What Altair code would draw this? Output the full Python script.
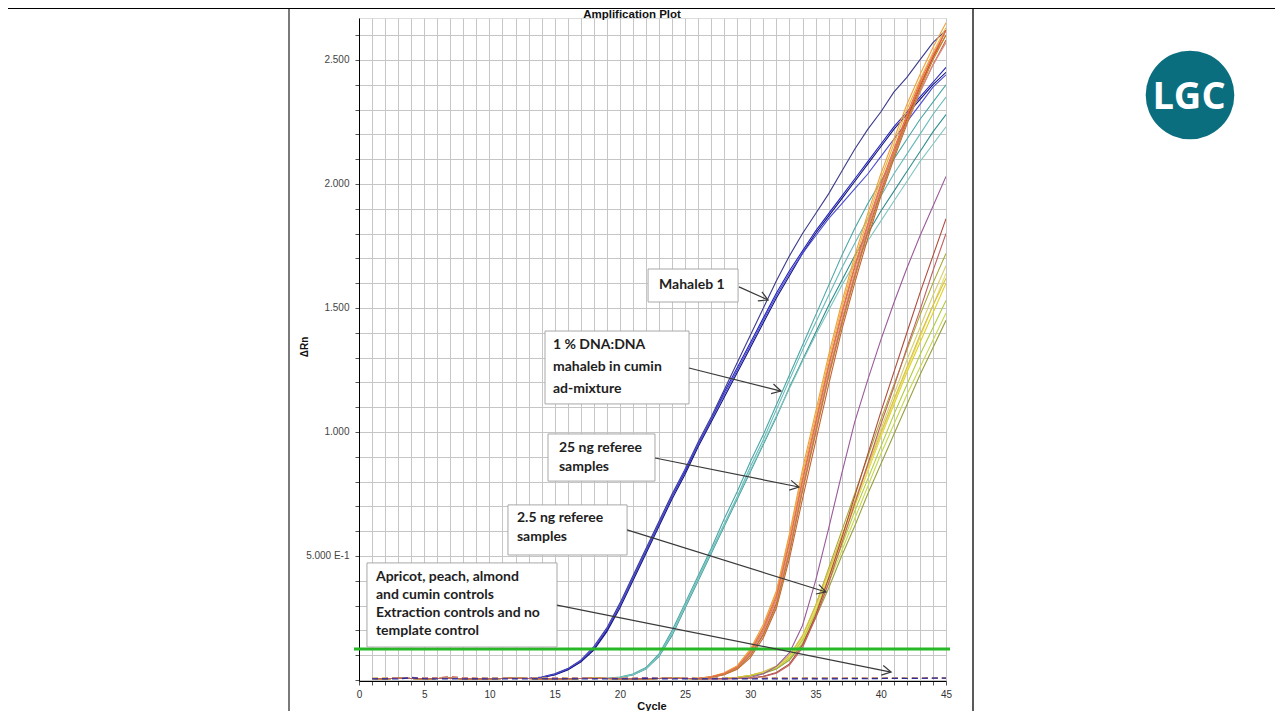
import math
import altair as alt
import pandas as pd

# ---------------- data ----------------
CYCLES = list(range(1, 46))

BASELINE = [0.006, 0.005, 0.007, 0.006, 0.005, 0.006, 0.007, 0.005, 0.006, 0.005,
            0.006, 0.007, 0.006, 0.005, 0.006, 0.005, 0.006, 0.007, 0.006, 0.005,
            0.006, 0.005, 0.006, 0.007, 0.006, 0.005, 0.006, 0.005, 0.006, 0.007,
            0.006, 0.005, 0.006, 0.005, 0.006, 0.007, 0.006, 0.005, 0.006, 0.005,
            0.006, 0.007, 0.006, 0.005, 0.006]

# rising part of each curve, up to cycle 45 (earlier cycles follow BASELINE)
MAHALEB_A = [0.012, 0.025, 0.046, 0.08, 0.135, 0.21, 0.31, 0.42, 0.53, 0.64, 0.75, 0.85, 0.96, 1.06,
             1.17, 1.28, 1.39, 1.50, 1.61, 1.71, 1.80, 1.88, 1.96, 2.05, 2.14, 2.22, 2.29, 2.37,
             2.43, 2.50, 2.57, 2.62]
MAHALEB_B = [0.010, 0.022, 0.042, 0.075, 0.125, 0.20, 0.30, 0.41, 0.52, 0.63, 0.74, 0.84, 0.95, 1.05,
             1.16, 1.26, 1.36, 1.46, 1.56, 1.65, 1.73, 1.81, 1.88, 1.95, 2.02, 2.09, 2.16, 2.23,
             2.29, 2.35, 2.41, 2.47]
MAHALEB_C = [0.010, 0.020, 0.040, 0.072, 0.12, 0.195, 0.29, 0.40, 0.51, 0.62, 0.73, 0.83, 0.94, 1.04,
             1.14, 1.24, 1.34, 1.44, 1.54, 1.63, 1.72, 1.80, 1.87, 1.94, 2.01, 2.08, 2.15, 2.22,
             2.28, 2.34, 2.40, 2.45]
MAHALEB_D = [0.011, 0.023, 0.044, 0.078, 0.13, 0.205, 0.30, 0.41, 0.52, 0.63, 0.74, 0.85, 0.95, 1.05,
             1.15, 1.25, 1.35, 1.45, 1.55, 1.64, 1.72, 1.79, 1.86, 1.92, 1.98, 2.04, 2.11, 2.18,
             2.25, 2.32, 2.39, 2.44]

MIX_A = [0.007, 0.012, 0.024, 0.05, 0.105, 0.20, 0.31, 0.42, 0.53, 0.65, 0.76, 0.88, 0.99, 1.11,
         1.23, 1.35, 1.47, 1.59, 1.71, 1.82, 1.92, 2.01, 2.10, 2.18, 2.26, 2.33, 2.40]
MIX_B = [0.006, 0.011, 0.022, 0.047, 0.10, 0.19, 0.30, 0.41, 0.52, 0.63, 0.74, 0.86, 0.97, 1.09,
         1.21, 1.33, 1.44, 1.55, 1.66, 1.76, 1.86, 1.95, 2.04, 2.12, 2.20, 2.28, 2.35]
MIX_C = [0.006, 0.010, 0.020, 0.044, 0.095, 0.18, 0.29, 0.40, 0.51, 0.62, 0.73, 0.84, 0.95, 1.06,
         1.18, 1.29, 1.40, 1.51, 1.61, 1.71, 1.80, 1.89, 1.97, 2.05, 2.13, 2.21, 2.28]
MIX_D = [0.006, 0.011, 0.021, 0.045, 0.098, 0.185, 0.295, 0.405, 0.515, 0.625, 0.735, 0.845, 0.955,
         1.065, 1.175, 1.285, 1.39, 1.49, 1.59, 1.68, 1.77, 1.85, 1.93, 2.01, 2.09, 2.16, 2.23]

REF25_A = [0.006, 0.012, 0.025, 0.05, 0.11, 0.20, 0.33, 0.55, 0.80, 1.03, 1.26, 1.47, 1.66, 1.83, 1.99, 2.13, 2.27, 2.40, 2.51, 2.60]
REF25_B = [0.006, 0.011, 0.023, 0.046, 0.10, 0.185, 0.31, 0.52, 0.77, 1.00, 1.23, 1.44, 1.63, 1.81, 1.97, 2.12, 2.26, 2.39, 2.51, 2.62]
REF25_C = [0.007, 0.013, 0.027, 0.055, 0.12, 0.215, 0.35, 0.58, 0.83, 1.06, 1.29, 1.50, 1.69, 1.86, 2.02, 2.16, 2.30, 2.42, 2.53, 2.63]
REF25_D = [0.006, 0.010, 0.021, 0.043, 0.09, 0.17, 0.29, 0.49, 0.73, 0.96, 1.19, 1.41, 1.60, 1.78, 1.95, 2.10, 2.24, 2.37, 2.48, 2.58]
REF25_E = [0.007, 0.014, 0.029, 0.058, 0.125, 0.225, 0.36, 0.59, 0.85, 1.08, 1.31, 1.52, 1.71, 1.88, 2.04, 2.18, 2.32, 2.44, 2.55, 2.65]
REF25_F = [0.006, 0.012, 0.024, 0.048, 0.105, 0.195, 0.32, 0.53, 0.78, 1.01, 1.24, 1.45, 1.64, 1.82, 1.98, 2.12, 2.25, 2.37, 2.48, 2.57]
REF25_G = [0.006, 0.011, 0.022, 0.045, 0.098, 0.18, 0.30, 0.51, 0.76, 0.99, 1.22, 1.43, 1.62, 1.80, 1.96, 2.11, 2.25, 2.38, 2.50, 2.60]
REF25_H = [0.007, 0.013, 0.026, 0.052, 0.115, 0.21, 0.34, 0.56, 0.81, 1.04, 1.27, 1.48, 1.67, 1.84, 2.00, 2.14, 2.28, 2.41, 2.52, 2.62]

REF2_A = [0.006, 0.010, 0.018, 0.030, 0.050, 0.090, 0.165, 0.28, 0.42, 0.56, 0.70, 0.84, 0.98, 1.11, 1.24, 1.36, 1.48, 1.60]
REF2_B = [0.006, 0.011, 0.019, 0.032, 0.054, 0.095, 0.175, 0.30, 0.45, 0.60, 0.75, 0.90, 1.05, 1.19, 1.33, 1.47, 1.60, 1.72]
REF2_C = [0.006, 0.010, 0.018, 0.030, 0.051, 0.092, 0.17, 0.29, 0.43, 0.58, 0.72, 0.87, 1.01, 1.15, 1.29, 1.42, 1.55, 1.67]
REF2_D = [0.006, 0.010, 0.017, 0.029, 0.049, 0.088, 0.16, 0.27, 0.41, 0.54, 0.68, 0.81, 0.94, 1.07, 1.19, 1.31, 1.42, 1.53]
REF2_E = [0.006, 0.009, 0.016, 0.027, 0.046, 0.083, 0.15, 0.26, 0.39, 0.52, 0.65, 0.78, 0.91, 1.03, 1.15, 1.26, 1.37, 1.48]
REF2_F = [0.006, 0.010, 0.018, 0.031, 0.052, 0.094, 0.17, 0.285, 0.425, 0.565, 0.705, 0.845, 0.985, 1.12, 1.25, 1.38, 1.51, 1.64]
REF2_G = [0.006, 0.009, 0.016, 0.026, 0.044, 0.080, 0.145, 0.25, 0.37, 0.50, 0.62, 0.75, 0.87, 0.99, 1.11, 1.23, 1.34, 1.45]
REF2_H = [0.006, 0.011, 0.019, 0.033, 0.056, 0.10, 0.18, 0.30, 0.44, 0.58, 0.72, 0.86, 0.995, 1.13, 1.26, 1.39, 1.51, 1.62]
REF2_P = [0.010, 0.025, 0.055, 0.11, 0.22, 0.40, 0.61, 0.83, 1.04, 1.21, 1.37, 1.52, 1.66, 1.79, 1.91, 2.03]
REF2_R = [0.008, 0.015, 0.030, 0.065, 0.14, 0.26, 0.41, 0.57, 0.74, 0.91, 1.08, 1.24, 1.40, 1.56, 1.71, 1.86]
REF2_S = [0.007, 0.013, 0.027, 0.060, 0.13, 0.25, 0.39, 0.55, 0.71, 0.87, 1.03, 1.18, 1.34, 1.49, 1.65, 1.80]

CURVE_NAMES = ["Mahaleb A", "Mahaleb B", "Mahaleb C", "Mahaleb D",
               "Mix A", "Mix B", "Mix C", "Mix D",
               "25ng A", "25ng B", "25ng C", "25ng D", "25ng E", "25ng F", "25ng G", "25ng H",
               "2.5ng A", "2.5ng B", "2.5ng C", "2.5ng D", "2.5ng E", "2.5ng F", "2.5ng G", "2.5ng H",
               "2.5ng P", "2.5ng R", "2.5ng S"]
CURVE_VALUES = [MAHALEB_A, MAHALEB_B, MAHALEB_C, MAHALEB_D,
                MIX_A, MIX_B, MIX_C, MIX_D,
                REF25_A, REF25_B, REF25_C, REF25_D, REF25_E, REF25_F, REF25_G, REF25_H,
                REF2_A, REF2_B, REF2_C, REF2_D, REF2_E, REF2_F, REF2_G, REF2_H,
                REF2_P, REF2_R, REF2_S]

CTRL_NAVY = [0.004, 0.005, 0.004, 0.009, 0.005, 0.004, 0.005, 0.004, 0.005, 0.004,
             0.004, 0.005, 0.004, 0.005, 0.004, 0.005, 0.004, 0.005, 0.004, 0.005,
             0.004, 0.006, 0.005, 0.004, 0.005, 0.004, 0.005, 0.004, 0.005, 0.004,
             0.005, 0.004, 0.005, 0.004, 0.005, 0.004, 0.005, 0.006, 0.005, 0.006,
             0.007, 0.006, 0.007, 0.008, 0.008]
CTRL_PURPLE = [0.006, 0.006, 0.007, 0.011, 0.007, 0.006, 0.007, 0.006, 0.006, 0.007,
               0.006, 0.007, 0.006, 0.006, 0.007, 0.006, 0.007, 0.006, 0.006, 0.007,
               0.006, 0.010, 0.007, 0.006, 0.007, 0.006, 0.006, 0.007, 0.006, 0.007,
               0.006, 0.007, 0.006, 0.007, 0.006, 0.007, 0.006, 0.007, 0.006, 0.007,
               0.006, 0.007, 0.006, 0.007, 0.006]
CTRL_RED = [0.007, 0.007, 0.008, 0.007, 0.008, 0.009, 0.015, 0.009, 0.008, 0.007,
            0.008, 0.007, 0.008, 0.007, 0.008, 0.007, 0.008, 0.007, 0.008, 0.007,
            0.008, 0.007, 0.008, 0.007, 0.008, 0.007, 0.008, 0.007, 0.008, 0.007,
            0.008, 0.007, 0.008, 0.007, 0.008, 0.007, 0.008, 0.007, 0.008, 0.007,
            0.008, 0.007, 0.008, 0.007, 0.008]
CTRL_YELLOW = [0.008, 0.009, 0.008, 0.009, 0.008, 0.009, 0.008, 0.009, 0.008, 0.009,
               0.008, 0.009, 0.008, 0.009, 0.008, 0.009, 0.008, 0.009, 0.008, 0.009,
               0.008, 0.009, 0.008, 0.009, 0.008, 0.009, 0.008, 0.009, 0.008, 0.009,
               0.008, 0.009, 0.008, 0.009, 0.008, 0.009, 0.008, 0.009, 0.008, 0.009,
               0.008, 0.009, 0.008, 0.009, 0.008]
CTRL_NAMES = ["Ctrl yellow", "Ctrl red", "Ctrl purple", "Ctrl navy"]
CTRL_VALUES = [CTRL_YELLOW, CTRL_RED, CTRL_PURPLE, CTRL_NAVY]

THRESHOLD = 0.125

X_TICKS = list(range(0, 46))
Y_TICKS = [round(i * 0.1, 1) for i in range(0, 27)]

# annotations (in cycle / delta Rn units)
BOX_TEXT = [["Mahaleb 1"],
            ["1 % DNA:DNA", "mahaleb in cumin", "ad-mixture"],
            ["25 ng referee", "samples"],
            ["2.5 ng referee", "samples"],
            ["Apricot, peach, almond", "and cumin controls", "Extraction controls and no", "template control"]]
BOX_X1 = [22.16, 14.26, 14.49, 11.42, 0.61]
BOX_X2 = [29.06, 25.30, 22.69, 20.55, 15.18]
BOX_Y1 = [1.657, 1.407, 0.992, 0.706, 0.472]
BOX_Y2 = [1.524, 1.113, 0.802, 0.504, 0.133]
TEXT_X = [23.0, 14.87, 15.33, 12.11, 1.30]
TEXT_Y = [[1.593], [1.351, 1.262, 1.173], [0.935, 0.859], [0.653, 0.577], [0.415, 0.343, 0.270, 0.198]]
ARROW_FROM = [(29.13, 1.585), (25.30, 1.258), (22.69, 0.895), (20.55, 0.605), (15.18, 0.302)]
ARROW_TO = [(31.36, 1.532), (32.35, 1.165), (33.73, 0.778), (35.80, 0.355), (40.79, 0.032)]

# ---------------- styles ----------------
CURVE_COLORS = ["#3b3b8c", "#2222c0", "#14147a", "#4a4ad2",
                "#4aa6a6", "#66baba", "#2f8f8f", "#80c6c0",
                "#e07b22", "#d9452b", "#e8b53a", "#c8613a", "#f0a040", "#d88a8a", "#b8862b", "#e86a50",
                "#e0d020", "#a8a832", "#d6d070", "#b0cc3c", "#c8d84a", "#e8e070", "#9aa040", "#d8c040",
                "#9a5a9a", "#b04a3a", "#c06060"]
CTRL_COLORS = ["#d8d040", "#d07070", "#8a5aa0", "#2a2a90"]

W, H = 587, 663
X_SCALE = alt.Scale(domain=[0, 45], nice=False, zero=False)
Y_SCALE = alt.Scale(domain=[-0.004, 2.669], nice=False, zero=False)
PX_PER_X = W / 45.0
PX_PER_Y = H / 2.673

# ---------------- tables ----------------
rows = []
for name, vals in zip(CURVE_NAMES, CURVE_VALUES):
    full = BASELINE[:45 - len(vals)] + vals
    for c, v in zip(CYCLES, full):
        rows.append({"cycle": c, "dRn": v, "series": name})
curves = pd.DataFrame(rows)

crow = []
for name, vals in zip(CTRL_NAMES, CTRL_VALUES):
    for c, v in zip(CYCLES, vals):
        crow.append({"cycle": c, "dRn": v, "series": name})
ctrl = pd.DataFrame(crow)

boxes = pd.DataFrame({"cycle": BOX_X1, "cycle2": BOX_X2, "dRn": BOX_Y1, "dRn2": BOX_Y2})
trows = []
for lines_, tx, tys in zip(BOX_TEXT, TEXT_X, TEXT_Y):
    for line, ty in zip(lines_, tys):
        trows.append({"cycle": tx, "dRn": ty, "label": line})
texts = pd.DataFrame(trows)

arows, hrows = [], []
for (x1, y1), (x2, y2) in zip(ARROW_FROM, ARROW_TO):
    arows.append({"cycle": x1, "dRn": y1, "cycle2": x2, "dRn2": y2})
    ang = math.degrees(math.atan2((y1 - y2) * PX_PER_Y, (x2 - x1) * PX_PER_X)) % 360
    hrows.append({"cycle": x2, "dRn": y2, "ang": ang})
arrows = pd.DataFrame(arows)
heads = pd.DataFrame(hrows)
thr = pd.DataFrame({"dRn": [THRESHOLD]})
one = pd.DataFrame({"k": [0]})

# ---------------- axes (identical in every layer so they merge) ----------------
X_AXIS = alt.Axis(values=X_TICKS, labelExpr="datum.value % 5 == 0 ? datum.label : ''",
                  grid=True, gridColor="#c6c6c6", gridWidth=1, tickSize=4, tickColor="#555",
                  labelPadding=4, labelFont="Liberation Sans", labelFontSize=10, labelColor="#333",
                  labelOverlap=False, labelFlush=False, domainColor="#000", title=None)
Y_AXIS = alt.Axis(values=Y_TICKS,
                  labelExpr="datum.value == 0.5 ? '5.000 E-1' : ((datum.value == 1 || datum.value == 1.5 || datum.value == 2 || datum.value == 2.5) ? format(datum.value, '.3f') : '')",
                  grid=True, gridColor="#c6c6c6", gridWidth=1, tickSize=4, tickColor="#555",
                  labelPadding=6, labelFont="Liberation Sans", labelFontSize=10, labelColor="#444",
                  labelOverlap=False, labelFlush=False, domainColor="#000", title=None)


def X(field):
    return alt.X(field, scale=X_SCALE, axis=X_AXIS, title=None)


def Y(field):
    return alt.Y(field, scale=Y_SCALE, axis=Y_AXIS, title=None)


lines = alt.Chart(curves).mark_line(strokeWidth=1.1, clip=True).encode(
    x=X("cycle:Q"), y=Y("dRn:Q"),
    color=alt.Color("series:N", scale=alt.Scale(domain=CURVE_NAMES, range=CURVE_COLORS), legend=None),
    detail="series:N",
)

ctrl_lines = alt.Chart(ctrl).mark_line(strokeWidth=1.2, strokeDash=[6, 4], clip=True).encode(
    x=X("cycle:Q"), y=Y("dRn:Q"),
    stroke=alt.Stroke("series:N", scale=alt.Scale(domain=CTRL_NAMES, range=CTRL_COLORS), legend=None),
    detail="series:N",
)

threshold = alt.Chart(thr).mark_rule(color="#27b827", strokeWidth=3).encode(
    y=Y("dRn:Q"), x=alt.value(-5), x2=alt.value(W + 4),
)

box_layer = alt.Chart(boxes).mark_rect(fill="white", stroke="#a8a8a8", strokeWidth=1).encode(
    x=X("cycle:Q"), x2="cycle2:Q", y=Y("dRn:Q"), y2="dRn2:Q",
)

text_layer = alt.Chart(texts).mark_text(align="left", baseline="middle", font="Lato",
                                        fontWeight="bold", fontSize=14, color="#1e1e1e").encode(
    x=X("cycle:Q"), y=Y("dRn:Q"), text="label:N",
)

arrow_layer = alt.Chart(arrows).mark_rule(color="#3a3a3a", strokeWidth=1.2).encode(
    x=X("cycle:Q"), x2="cycle2:Q", y=Y("dRn:Q"), y2="dRn2:Q",
)

head_layer = alt.Chart(heads).mark_point(shape="M-1,-0.55L0,0L-1,0.55", filled=False,
                                         stroke="#3a3a3a", strokeWidth=1.2, size=324, opacity=1).encode(
    x=X("cycle:Q"), y=Y("dRn:Q"), angle=alt.Angle("ang:Q", scale=None),
)

title_t = alt.Chart(one).mark_text(text="Amplification Plot", font="Liberation Sans", fontWeight="bold",
                                   fontSize=11.5, color="#111", align="center", baseline="alphabetic").encode(
    x=alt.value(273), y=alt.value(-0.5))
xtitle_t = alt.Chart(one).mark_text(text="Cycle", font="Liberation Sans", fontWeight="bold",
                                    fontSize=11, color="#111", align="center", baseline="alphabetic").encode(
    x=alt.value(293), y=alt.value(691.5))
ytitle_t = alt.Chart(one).mark_text(text="ΔRn", font="Liberation Sans", fontWeight="bold",
                                    fontSize=10, color="#111", align="center", baseline="middle", angle=270).encode(
    x=alt.value(-54), y=alt.value(329))

div_left = alt.Chart(one).mark_rule(color="#7a7a7a", strokeWidth=2).encode(
    x=alt.value(-70), y=alt.value(-10), y2=alt.value(700))
div_right = alt.Chart(one).mark_rule(color="#5a5a5a", strokeWidth=2).encode(
    x=alt.value(614), y=alt.value(-10), y2=alt.value(700))
top_line = alt.Chart(one).mark_rule(color="#000", strokeWidth=1.6).encode(
    x=alt.value(-351), x2=alt.value(916), y=alt.value(-9.8))

logo = alt.Chart(one).mark_point(shape="circle", filled=True, color="#0b6e7f", size=7854,
                                 opacity=1, strokeWidth=0).encode(x=alt.value(831), y=alt.value(77))
logo_t = alt.Chart(one).mark_text(text="LGC", font="Open Sans", fontWeight="bold", fontSize=38,
                                  color="white", align="center", baseline="alphabetic").encode(
    x=alt.value(830), y=alt.value(91))

chart = alt.layer(
    lines, ctrl_lines, threshold, box_layer, arrow_layer, head_layer, text_layer,
    title_t, xtitle_t, ytitle_t, div_left, div_right, top_line, logo, logo_t,
).properties(
    width=W, height=H,
    padding={"left": 351, "top": 10, "right": 329, "bottom": 30},
    autosize=alt.AutoSizeParams(type="none"),
).configure_view(stroke="#000", strokeWidth=1).configure(background="white")

chart.save("out.html", embed_options={"renderer": "svg", "actions": False})
